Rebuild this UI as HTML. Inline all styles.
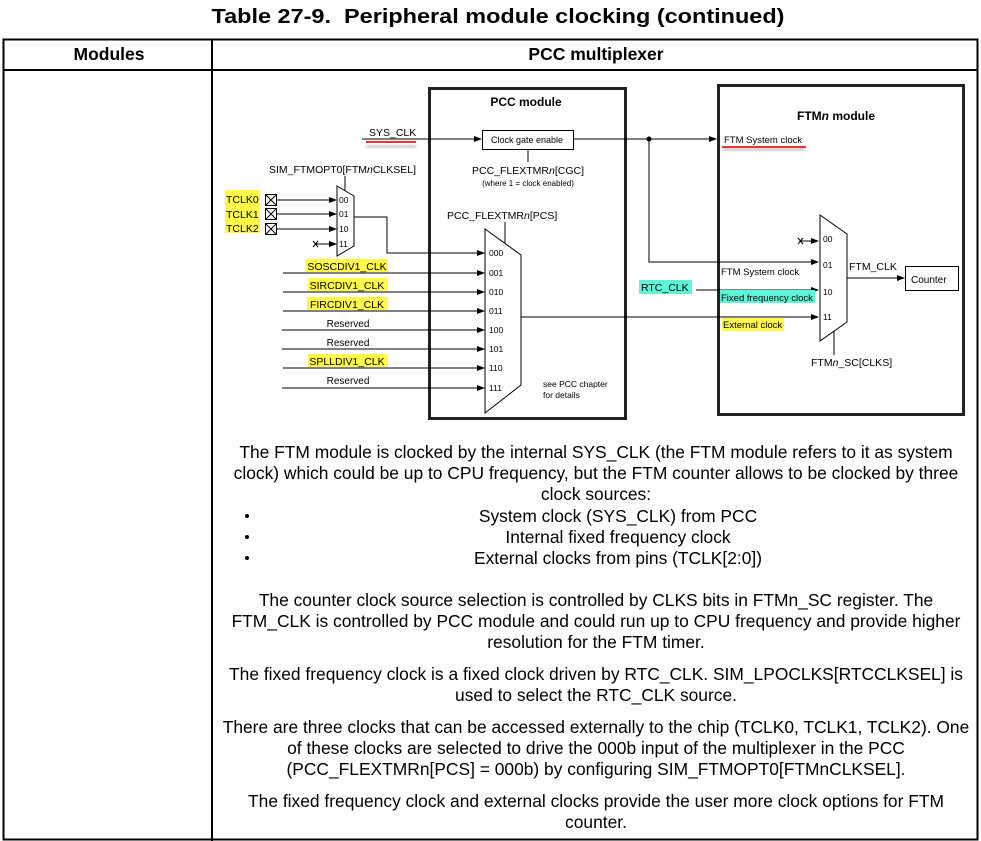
<!DOCTYPE html>
<html><head><meta charset="utf-8"><style>
html,body{margin:0;padding:0;background:#fff;}
svg{display:block;font-family:"Liberation Sans",Arial,sans-serif;}
</style></head><body>
<svg width="981" height="841" viewBox="0 0 981 841" xmlns="http://www.w3.org/2000/svg">
<defs>
<marker id="a" markerWidth="8" markerHeight="6" refX="7" refY="3" orient="auto" markerUnits="userSpaceOnUse"><path d="M0,0 L8,3 L0,6 Z" fill="#000"/></marker>
<filter id="sh"><feGaussianBlur stdDeviation="1.5"/></filter>
</defs>
<text x="498" y="23" font-size="20" font-weight="bold" text-anchor="middle" textLength="573" lengthAdjust="spacingAndGlyphs">Table 27-9.&#160;&#160;Peripheral module clocking (continued)</text>
<!-- table -->
<g stroke="#000" fill="none">
<rect x="3.5" y="39.5" width="974" height="800" stroke-width="2"/>
<line x1="3" y1="70" x2="978" y2="70" stroke-width="2"/>
<line x1="212" y1="39" x2="212" y2="841" stroke-width="2"/>
</g>
<text x="109" y="60" font-size="17.5" font-weight="bold" text-anchor="middle">Modules</text>
<text x="596" y="60" font-size="17.5" font-weight="bold" text-anchor="middle">PCC multiplexer</text>

<!-- PCC module box -->
<rect x="429.5" y="88.5" width="196" height="330" fill="none" stroke="#222" stroke-width="3"/>
<text x="526" y="106" font-size="12" font-weight="bold" text-anchor="middle">PCC module</text>
<!-- FTM module box -->
<rect x="718.5" y="85.5" width="245" height="329" fill="none" stroke="#222" stroke-width="3"/>
<text x="836" y="120" font-size="12" font-weight="bold" text-anchor="middle">FTM<tspan font-style="italic">n</tspan> module</text>

<g stroke="#000" stroke-width="1" fill="none">
<line x1="362" y1="139" x2="481" y2="139" marker-end="url(#a)"/>
<rect x="482.5" y="130.5" width="91" height="19" fill="#fff"/>
<line x1="573" y1="139" x2="716" y2="139" marker-end="url(#a)"/>
<line x1="528" y1="150" x2="528" y2="162"/>
<polyline points="649,139 649,262 818,262" marker-end="url(#a)"/>
<polygon points="337,186 354,196 354,246 337,256" fill="#fff"/>
<line x1="345" y1="176" x2="345" y2="191"/>
<line x1="277" y1="200" x2="336" y2="200" marker-end="url(#a)"/>
<line x1="277" y1="214" x2="336" y2="214" marker-end="url(#a)"/>
<line x1="277" y1="229" x2="336" y2="229" marker-end="url(#a)"/>
<line x1="316" y1="244" x2="336" y2="244" marker-end="url(#a)"/>
<polyline points="354,217 387,217 387,253 484,253" marker-end="url(#a)"/>
<rect x="265.5" y="194.5" width="11" height="11"/><path d="M265.5,194.5 l11,11 M276.5,194.5 l-11,11"/>
<rect x="265.5" y="208.5" width="11" height="11"/><path d="M265.5,208.5 l11,11 M276.5,208.5 l-11,11"/>
<rect x="265.5" y="223.5" width="11" height="11"/><path d="M265.5,223.5 l11,11 M276.5,223.5 l-11,11"/>
<path d="M313,241 l5,6 M318,241 l-5,6"/>
<polygon points="485,229 521,255 521,385 485,413" fill="#fff"/>
<line x1="505" y1="222" x2="505" y2="243"/>
<line x1="283" y1="273" x2="484" y2="273" marker-end="url(#a)"/>
<line x1="283" y1="292" x2="484" y2="292" marker-end="url(#a)"/>
<line x1="283" y1="311" x2="484" y2="311" marker-end="url(#a)"/>
<line x1="282" y1="330" x2="484" y2="330" marker-end="url(#a)"/>
<line x1="282" y1="349" x2="484" y2="349" marker-end="url(#a)"/>
<line x1="283" y1="368" x2="484" y2="368" marker-end="url(#a)"/>
<line x1="282" y1="388" x2="484" y2="388" marker-end="url(#a)"/>
<line x1="521" y1="317" x2="818" y2="317" marker-end="url(#a)"/>
<polygon points="820,215 847,234 847,322 820,341" fill="#fff"/>
<line x1="834" y1="331" x2="834" y2="355"/>
<line x1="801" y1="241" x2="818" y2="241" marker-end="url(#a)"/>
<path d="M798,238 l5,6 M803,238 l-5,6"/>
<line x1="696" y1="290" x2="818" y2="290" marker-end="url(#a)"/>
<line x1="847" y1="278" x2="904" y2="278" marker-end="url(#a)"/>
<rect x="905.5" y="266.5" width="53" height="24"/>
</g>
<circle cx="649" cy="139" r="2.5" fill="#000"/>

<g fill="#fff94a">
<rect x="225" y="190" width="35" height="15"/>
<rect x="225" y="205" width="35" height="15"/>
<rect x="225" y="220" width="35" height="13"/>
<rect x="306" y="259" width="82" height="13"/>
<rect x="308" y="278" width="80" height="13"/>
<rect x="307" y="297" width="81" height="13"/>
<rect x="308" y="354" width="80" height="13"/>
<rect x="722" y="318" width="62" height="13"/>
</g>
<g fill="#5ff5d8">
<rect x="639" y="280" width="53" height="14"/>
<rect x="720" y="290" width="95" height="13"/>
</g>
<rect x="366" y="145" width="50" height="3" fill="#999" filter="url(#sh)" opacity=".6"/>
<rect x="366" y="141" width="50" height="2" fill="#e33"/>
<rect x="722" y="148" width="84" height="3" fill="#999" filter="url(#sh)" opacity=".6"/>
<rect x="722" y="146" width="84" height="2" fill="#e33"/>

<g font-size="10.5" fill="#000">
<text x="369" y="136">SYS_CLK</text>
<text x="527" y="143" font-size="9" text-anchor="middle">Clock gate enable</text>
<text x="528" y="174" text-anchor="middle">PCC_FLEXTMR<tspan font-style="italic">n</tspan>[CGC]</text>
<text x="528" y="186" font-size="8" text-anchor="middle">(where 1 = clock enabled)</text>
<text x="269" y="173">SIM_FTMOPT0[FTM<tspan font-style="italic">n</tspan>CLKSEL]</text>
<text x="226" y="203">TCLK0</text>
<text x="226" y="218">TCLK1</text>
<text x="226" y="232">TCLK2</text>
<g font-size="8.5"><text x="339" y="203">00</text><text x="339" y="217">01</text><text x="339" y="232">10</text><text x="339" y="247">11</text></g>
<text x="447" y="219">PCC_FLEXTMR<tspan font-style="italic">n</tspan>[PCS]</text>
<text x="347" y="270" text-anchor="middle">SOSCDIV1_CLK</text>
<text x="347" y="289" text-anchor="middle">SIRCDIV1_CLK</text>
<text x="347" y="308" text-anchor="middle">FIRCDIV1_CLK</text>
<text x="348" y="327" font-size="10" text-anchor="middle">Reserved</text>
<text x="348" y="346" font-size="10" text-anchor="middle">Reserved</text>
<text x="347" y="365" text-anchor="middle">SPLLDIV1_CLK</text>
<text x="348" y="384" font-size="10" text-anchor="middle">Reserved</text>
<g font-size="8.5"><text x="489" y="256">000</text><text x="489" y="276">001</text><text x="489" y="295">010</text><text x="489" y="314">011</text><text x="489" y="333">100</text><text x="489" y="352">101</text><text x="489" y="371">110</text><text x="489" y="391">111</text></g>
<text x="543" y="387" font-size="8.5">see PCC chapter</text>
<text x="543" y="398" font-size="8.5">for details</text>
<text x="724" y="143" font-size="9.5">FTM System clock</text>
<g font-size="8.5"><text x="823" y="242">00</text><text x="823" y="268">01</text><text x="823" y="295">10</text><text x="823" y="320">11</text></g>
<text x="721" y="275" font-size="9.5">FTM System clock</text>
<text x="641" y="291">RTC_CLK</text>
<text x="721" y="301" font-size="9.5">Fixed frequency clock</text>
<text x="723" y="328" font-size="9.5">External clock</text>
<text x="849" y="270">FTM_CLK</text>
<text x="911" y="283" font-size="10">Counter</text>
<text x="811" y="366">FTM<tspan font-style="italic">n</tspan>_SC[CLKS]</text>
</g>

<g font-size="17.4" text-anchor="middle" fill="#000">
<text x="596" y="458">The FTM module is clocked by the internal SYS_CLK (the FTM module refers to it as system</text>
<text x="596" y="479">clock) which could be up to CPU frequency, but the FTM counter allows to be clocked by three</text>
<text x="596" y="500">clock sources:</text>
<text x="618" y="522">System clock (SYS_CLK) from PCC</text>
<text x="618" y="543">Internal fixed frequency clock</text>
<text x="618" y="564">External clocks from pins (TCLK[2:0])</text>
<text x="596" y="606">The counter clock source selection is controlled by CLKS bits in FTMn_SC register. The</text>
<text x="596" y="627">FTM_CLK is controlled by PCC module and could run up to CPU frequency and provide higher</text>
<text x="596" y="648">resolution for the FTM timer.</text>
<text x="596" y="680">The fixed frequency clock is a fixed clock driven by RTC_CLK. SIM_LPOCLKS[RTCCLKSEL] is</text>
<text x="596" y="701">used to select the RTC_CLK source.</text>
<text x="596" y="733">There are three clocks that can be accessed externally to the chip (TCLK0, TCLK1, TCLK2). One</text>
<text x="596" y="754">of these clocks are selected to drive the 000b input of the multiplexer in the PCC</text>
<text x="596" y="775">(PCC_FLEXTMRn[PCS] = 000b) by configuring SIM_FTMOPT0[FTMnCLKSEL].</text>
<text x="596" y="807">The fixed frequency clock and external clocks provide the user more clock options for FTM</text>
<text x="596" y="828">counter.</text>
</g>
<g fill="#000"><circle cx="247" cy="516" r="2"/><circle cx="247" cy="537" r="2"/><circle cx="247" cy="558" r="2"/></g>
</svg>
</body></html>
